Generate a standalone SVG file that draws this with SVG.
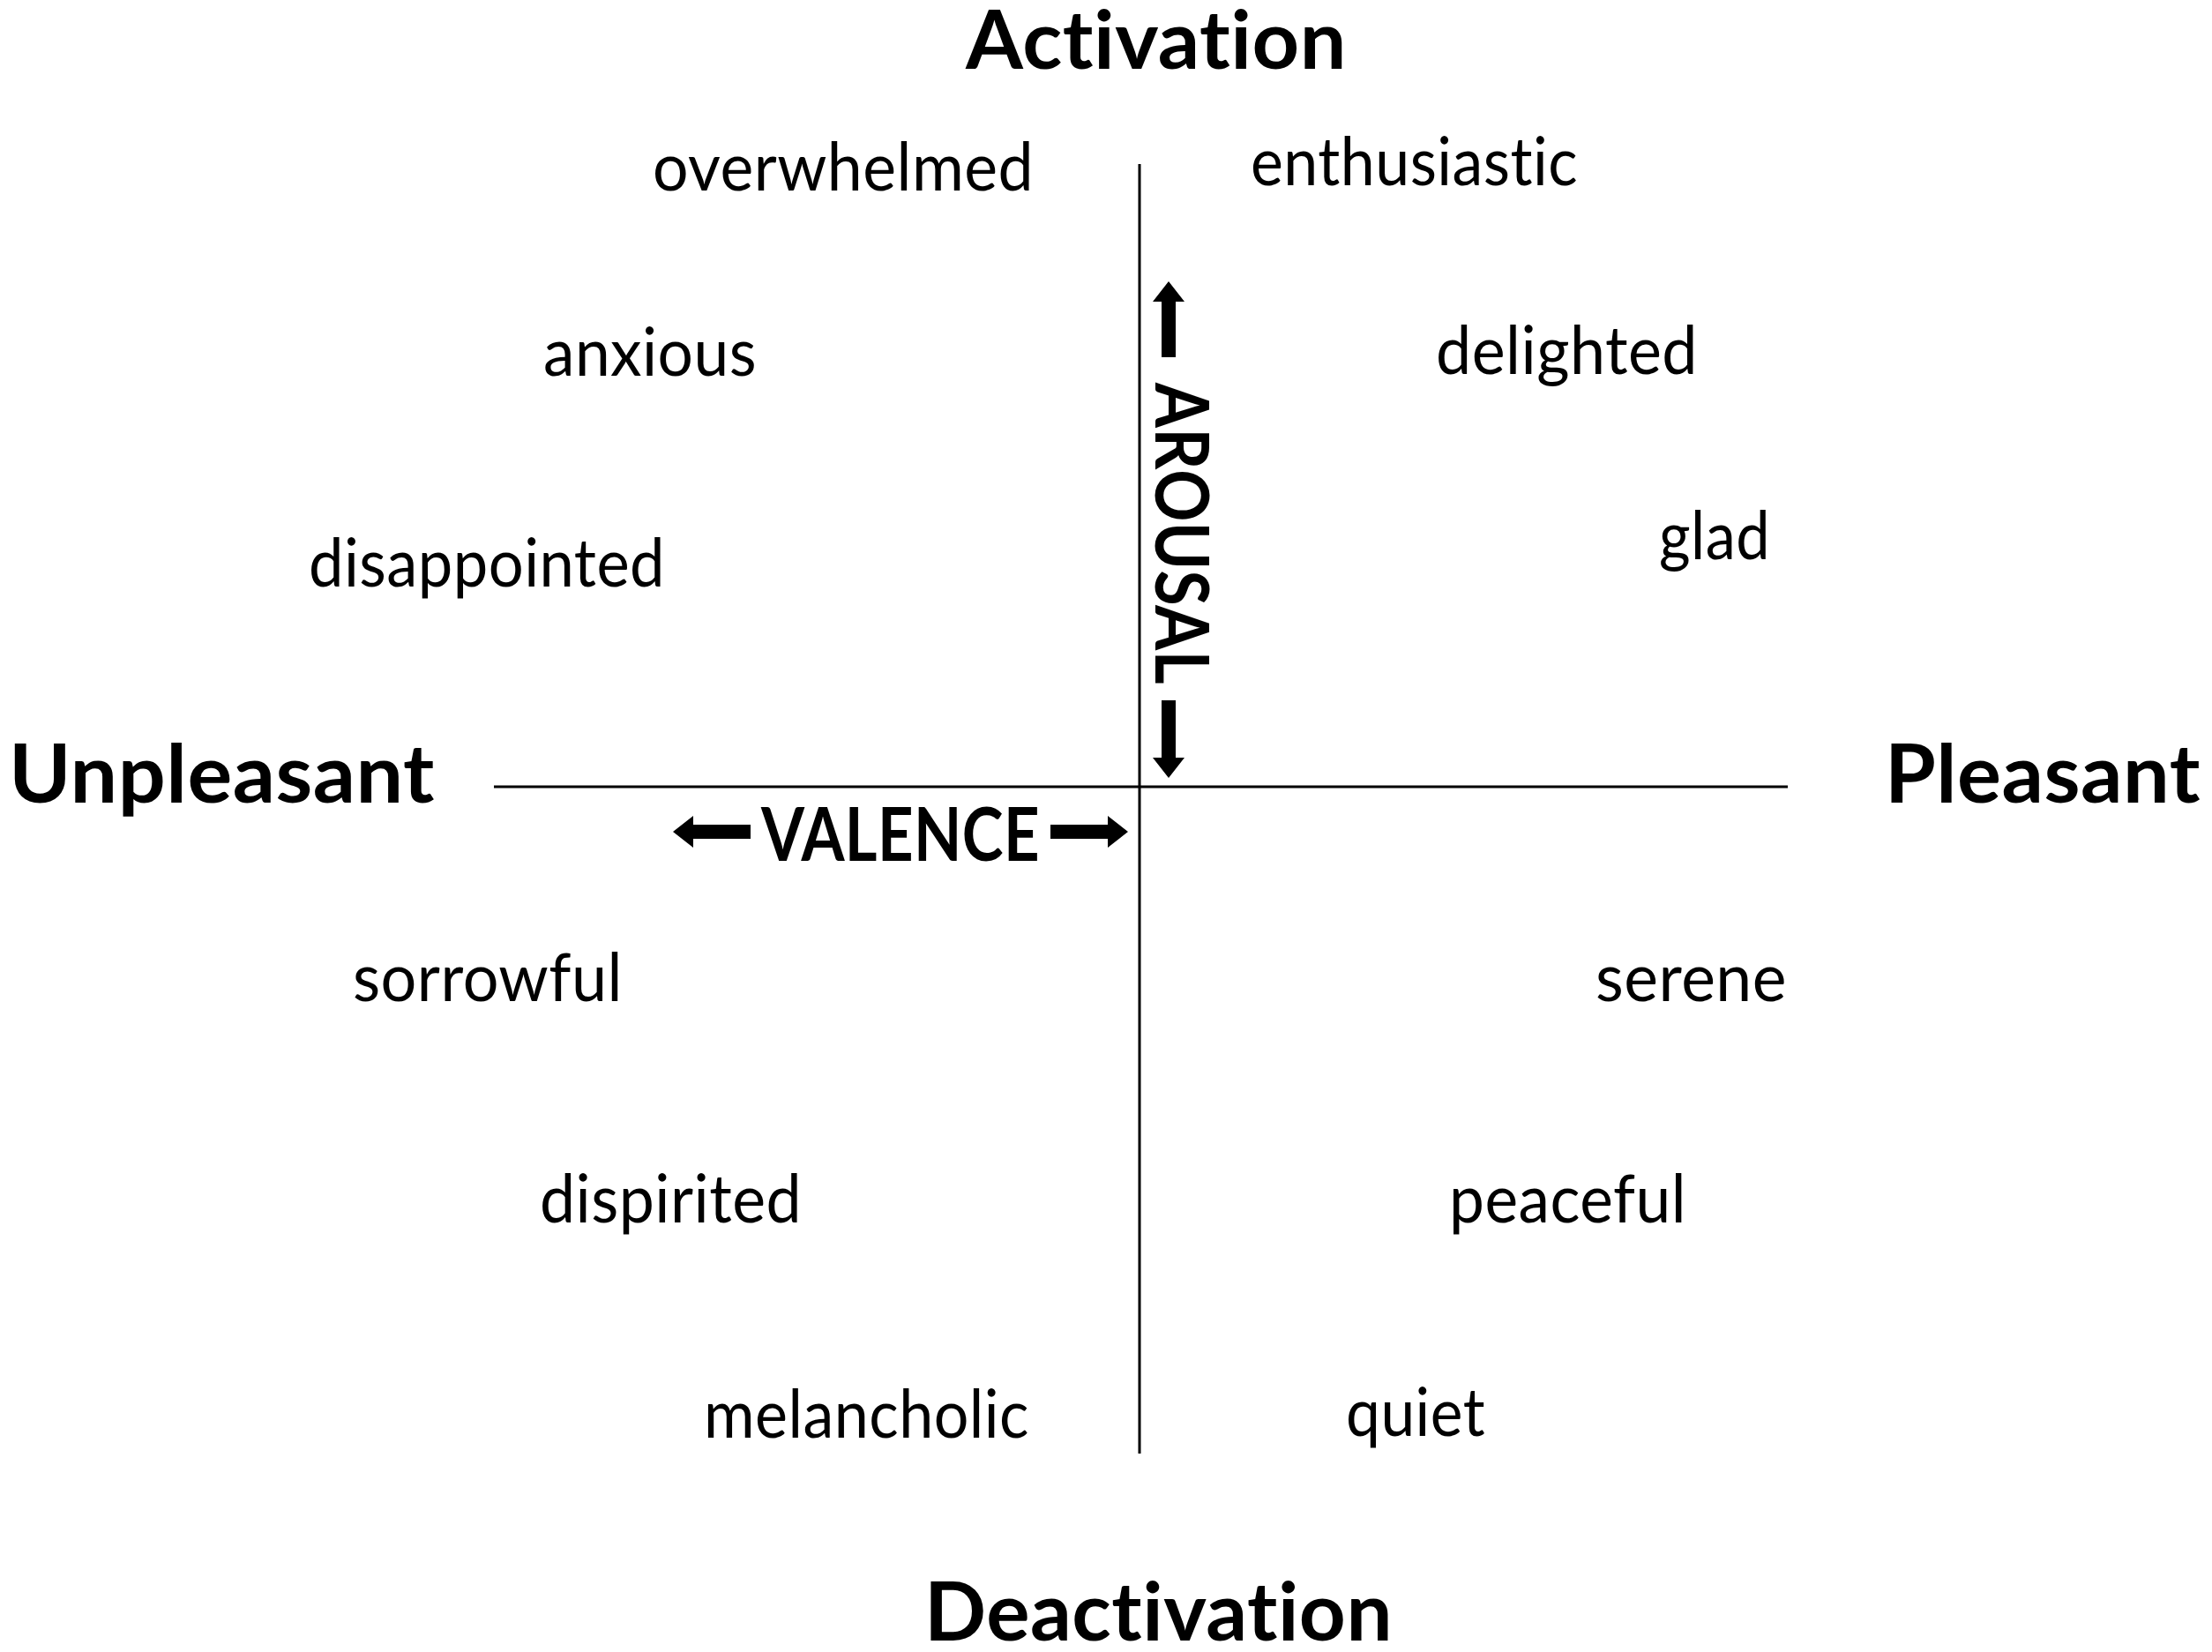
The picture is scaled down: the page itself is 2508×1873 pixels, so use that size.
<svg xmlns="http://www.w3.org/2000/svg" width="2508" height="1873" viewBox="0 0 2508 1873">
<style>
text{font-variant-ligatures:none;font-feature-settings:"liga" 0,"clig" 0,"dlig" 0;letter-spacing:0.5px}
.big{font-family:Lato,"Open Sans","Liberation Sans",sans-serif;font-weight:700;font-size:92px;fill:#000}
.lab{font-family:Lato,"Open Sans","Liberation Sans",sans-serif;font-weight:700;font-size:84px;fill:#000}
.w{font-family:Lato,"Open Sans","Liberation Sans",sans-serif;font-weight:400;font-size:76px;fill:#000}
.ax{stroke:#000;stroke-width:3;fill:none}
.arr{fill:#000}
</style>
<rect width="2508" height="1873" fill="#fff"/>
<g id="connectors">
<line class="ax" x1="1292" y1="186" x2="1292" y2="1648"/>
<line class="ax" x1="560" y1="892" x2="2027" y2="892"/>
</g>
<g id="arousal">
<polygon class="arr" points="1325,319 1343,342 1333,342 1333,405 1317,405 1317,342 1307,342"/>
<text class="lab" transform="translate(1310,605) rotate(90)" text-anchor="middle" textLength="342" lengthAdjust="spacingAndGlyphs">AROUSAL</text>
<polygon class="arr" points="1325,882 1343,859 1333,859 1333,794 1317,794 1317,859 1307,859"/>
</g>
<g id="valence">
<polygon class="arr" points="763,943 786,925 786,935 851,935 851,951 786,951 786,961"/>
<text class="lab" x="863" y="976" textLength="316" lengthAdjust="spacingAndGlyphs">VALENCE</text>
<polygon class="arr" points="1279,943 1256,925 1256,935 1191,935 1191,951 1256,951 1256,961"/>
</g>
<g id="activation"><text class="big" x="1095" y="78" textLength="432" lengthAdjust="spacingAndGlyphs">Activation</text></g>
<g id="deactivation"><text class="big" x="1048" y="1860" textLength="531" lengthAdjust="spacingAndGlyphs">Deactivation</text></g>
<g id="unpleasant"><text class="big" x="10" y="910" textLength="483" lengthAdjust="spacingAndGlyphs">Unpleasant</text></g>
<g id="pleasant"><text class="big" x="2137" y="910" textLength="358" lengthAdjust="spacingAndGlyphs">Pleasant</text></g>
<g id="overwhelmed"><text class="w" x="740" y="216" textLength="432" lengthAdjust="spacingAndGlyphs">overwhelmed</text></g>
<g id="enthusiastic"><text class="w" x="1418" y="210" textLength="371" lengthAdjust="spacingAndGlyphs">enthusiastic</text></g>
<g id="anxious"><text class="w" x="616" y="426" textLength="242" lengthAdjust="spacingAndGlyphs">anxious</text></g>
<g id="delighted"><text class="w" x="1628" y="424" textLength="297" lengthAdjust="spacingAndGlyphs">delighted</text></g>
<g id="glad"><text class="w" x="1881" y="634" textLength="126" lengthAdjust="spacingAndGlyphs">glad</text></g>
<g id="disappointed"><text class="w" x="350" y="665" textLength="404" lengthAdjust="spacingAndGlyphs">disappointed</text></g>
<g id="sorrowful"><text class="w" x="400" y="1135" textLength="306" lengthAdjust="spacingAndGlyphs">sorrowful</text></g>
<g id="serene"><text class="w" x="1809" y="1135" textLength="217" lengthAdjust="spacingAndGlyphs">serene</text></g>
<g id="dispirited"><text class="w" x="612" y="1386" textLength="297" lengthAdjust="spacingAndGlyphs">dispirited</text></g>
<g id="peaceful"><text class="w" x="1643" y="1386" textLength="269" lengthAdjust="spacingAndGlyphs">peaceful</text></g>
<g id="melancholic"><text class="w" x="798" y="1630" textLength="369" lengthAdjust="spacingAndGlyphs">melancholic</text></g>
<g id="quiet"><text class="w" x="1526" y="1628" textLength="158" lengthAdjust="spacingAndGlyphs">quiet</text></g>
</svg>
